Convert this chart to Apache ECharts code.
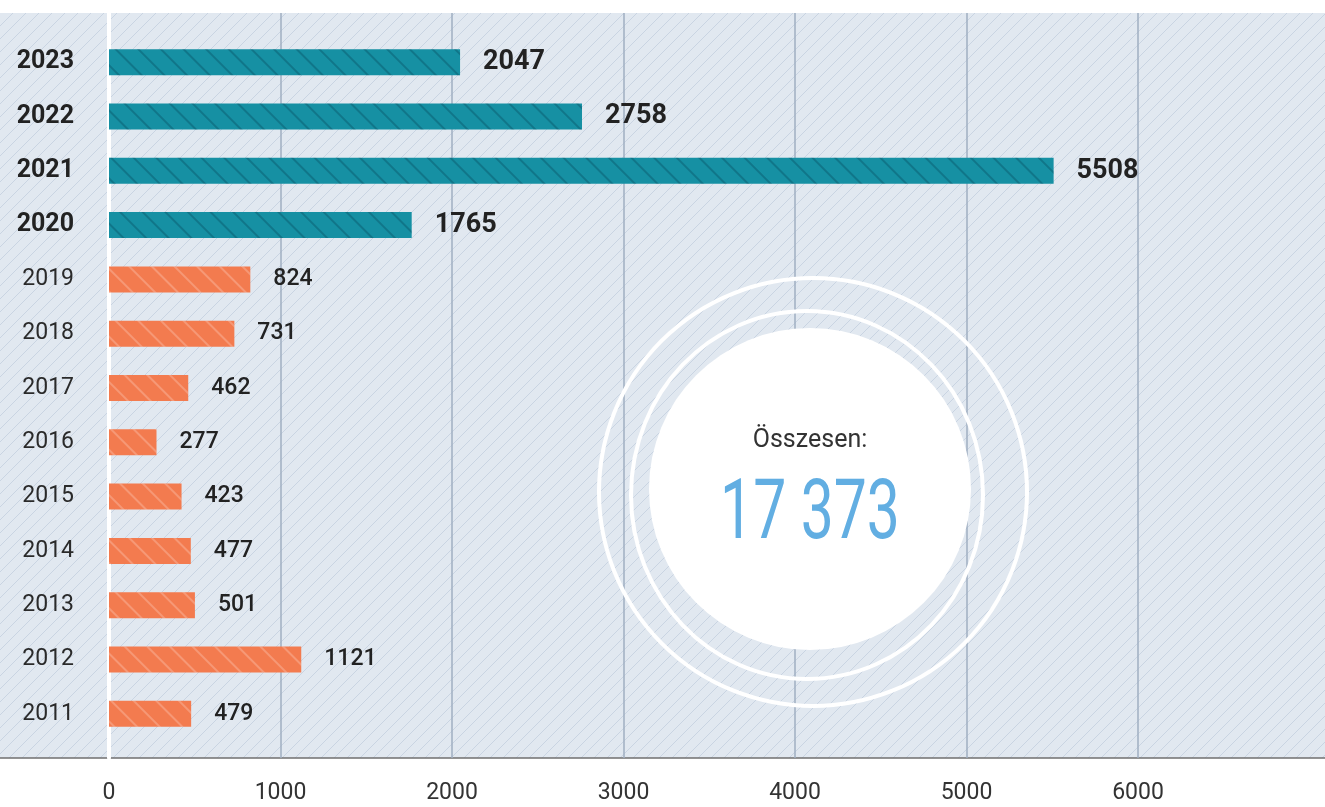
<!DOCTYPE html>
<html>
<head>
<meta charset="utf-8">
<script src="https://cdn.jsdelivr.net/npm/echarts@6/dist/echarts.min.js"></script>
<style>
html, body { margin: 0; padding: 0; background: #fff; }
#main { width: 1325px; height: 807px; }
</style>
</head>
<body>
<div id="main"></div>
<script>
// adatok
var years = ['2011', '2012', '2013', '2014', '2015', '2016', '2017', '2018', '2019', '2020', '2021', '2022', '2023'];
var counts = [479, 1121, 501, 477, 423, 277, 462, 731, 824, 1765, 5508, 2758, 2047];
var recentYears = ['2020', '2021', '2022', '2023'];
var xTicks = [0, 1000, 2000, 3000, 4000, 5000, 6000];
var totalLabel = 'Összesen:';

var teal = '#1690a3';
var orange = '#f37b4f';

// hatter mintazat
function hatch() {
    var c = document.createElement('canvas');
    c.width = 13; c.height = 13;
    var g = c.getContext('2d');
    g.fillStyle = '#e1e8f0';
    g.fillRect(0, 0, 13, 13);
    g.strokeStyle = '#c9d4e2';
    g.lineWidth = 1;
    [-13, 0, 13].forEach(function (o) {
        g.beginPath();
        g.moveTo(o - 1, 14);
        g.lineTo(o + 14, -1);
        g.stroke();
    });
    return c;
}

var total = counts.reduce(function (a, b) { return a + b; }, 0);
var totalText = String(total).replace(/\B(?=(\d{3})+(?!\d))/g, ' ');

var barData = years.map(function (y, i) {
    var recent = recentYears.indexOf(y) >= 0;
    return {
        value: counts[i],
        itemStyle: {
            color: recent ? teal : orange,
            decal: {
                symbol: 'rect',
                symbolSize: 1,
                dashArrayX: [[1, 0]],
                dashArrayY: [2, 14],
                rotation: Math.PI / 4,
                color: recent ? 'rgba(0,40,60,0.25)' : 'rgba(255,255,255,0.22)'
            }
        },
        label: {
            fontSize: recent ? 27 : 23,
            fontWeight: recent ? 'bold' : 500
        }
    };
});

var myChart = echarts.init(document.getElementById('main'));

var option = {
    animation: false,
    textStyle: { fontFamily: 'Roboto' },
    grid: [
        { left: 109, right: 15.5, top: 35, bottom: 66 },
        { left: 109, right: 15.5, top: 13, bottom: 49 }
    ],
    xAxis: [{
        gridIndex: 0,
        type: 'value',
        min: 0, max: 7000, interval: 1000,
        show: false
    }, {
        gridIndex: 1,
        type: 'value',
        min: 0, max: 7000, interval: 1000,
        axisLine: { show: false },
        axisTick: { show: false },
        axisLabel: {
            margin: 24,
            fontSize: 23,
            color: '#333',
            showMaxLabel: false,
            formatter: function (v) { return xTicks.indexOf(v) >= 0 ? String(v) : ''; }
        },
        splitLine: {
            show: true,
            showMinLine: false,
            showMaxLine: false,
            lineStyle: { color: '#9fafc2', width: 1.5 }
        }
    }],
    yAxis: [{
        gridIndex: 0,
        type: 'category',
        data: years,
        axisLine: { show: false },
        axisTick: { show: false },
        axisLabel: {
            margin: 35,
            formatter: function (v) {
                return recentYears.indexOf(v) >= 0 ? '{b|' + v + '}' : '{n|' + v + '}';
            },
            rich: {
                b: { fontSize: 25, fontWeight: 'bold', color: '#222', fontFamily: 'Roboto' },
                n: { fontSize: 23, color: '#2a2a2a', fontFamily: 'Roboto' }
            }
        }
    }, {
        gridIndex: 1,
        type: 'value',
        min: 0, max: 1,
        axisLine: { show: true, lineStyle: { color: '#fff', width: 4 } },
        axisTick: { show: false },
        axisLabel: { show: false },
        splitLine: { show: false }
    }],
    series: [{
        type: 'bar',
        xAxisIndex: 0,
        yAxisIndex: 0,
        barWidth: 26,
        data: barData,
        label: {
            show: true,
            position: 'right',
            distance: 23,
            color: '#222',
            fontFamily: 'Roboto'
        }
    }],
    graphic: [
        {
            type: 'rect', z: -10, silent: true,
            shape: { x: 0, y: 13, width: 1325, height: 745 },
            style: { fill: { image: hatch(), repeat: 'repeat' } }
        },
        {
            type: 'line', z: -5, silent: true,
            shape: { x1: 0, y1: 758, x2: 1325, y2: 758 },
            style: { stroke: '#6f6f6f', lineWidth: 1.5 }
        },
        {
            type: 'circle', z: 10, silent: true,
            shape: { cx: 813, cy: 492, r: 214 },
            style: { fill: 'none', stroke: '#fff', lineWidth: 4 }
        },
        {
            type: 'ellipse', z: 10, silent: true,
            shape: { cx: 807, cy: 495, rx: 176, ry: 184 },
            style: { fill: 'none', stroke: '#fff', lineWidth: 4 }
        },
        {
            type: 'circle', z: 10, silent: true,
            shape: { cx: 810, cy: 489, r: 161 },
            style: { fill: '#fff' }
        },
        {
            type: 'text', z: 11, silent: true,
            x: 810, y: 441,
            style: {
                text: totalLabel,
                align: 'center', verticalAlign: 'middle',
                fontSize: 25, fontWeight: 400, fontFamily: 'Roboto',
                fill: '#333'
            }
        },
        {
            type: 'text', z: 11, silent: true,
            x: 810, y: 517, scaleX: 0.7,
            style: {
                text: totalText,
                align: 'center', verticalAlign: 'middle',
                fontSize: 84, fontWeight: 400, fontFamily: 'Roboto',
                fill: '#62aee2'
            }
        }
    ]
};

myChart.setOption(option);
window.onresize = function () {
    myChart.resize();
};
</script>
</body>
</html>
